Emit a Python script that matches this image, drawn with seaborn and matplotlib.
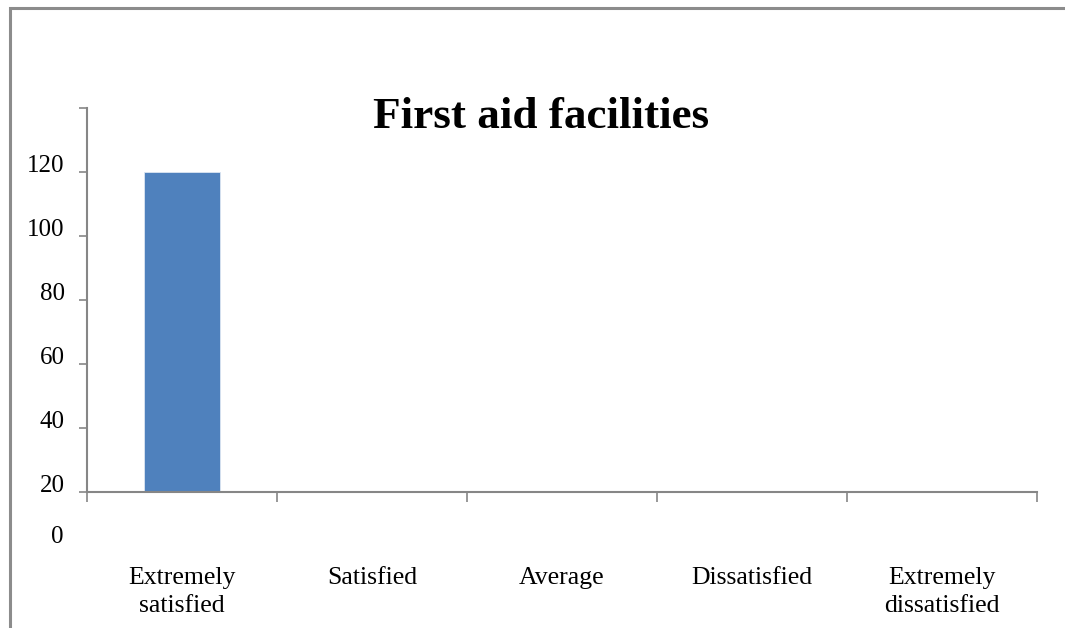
import matplotlib
matplotlib.use("Agg")
import matplotlib.pyplot as plt
from matplotlib.patches import Rectangle
from matplotlib.transforms import ScaledTranslation
import seaborn as sns

# Survey responses about first aid facilities
categories = ["Extremely\nsatisfied", "Satisfied", "Average", "Dissatisfied", "Extremely\ndissatisfied"]
responses = [120, 0, 0, 0, 0]
ytick_values = [20, 40, 60, 80, 100, 120, 140]
ytick_labels = ["20", "40", "60", "80", "100", "120", ""]

sns.set_style("white")
plt.rcParams["font.family"] = ["Liberation Serif", "DejaVu Serif"]
plt.rcParams["text.color"] = "black"
plt.rcParams["xtick.labelcolor"] = "black"
plt.rcParams["ytick.labelcolor"] = "black"

axis_gray = "#868686"
bar_blue = "#4F81BD"

fig = plt.figure(figsize=(10.65, 6.28), dpi=100)
ax = fig.add_axes([87 / 1065, 1 - 492 / 628, (1037 - 87) / 1065, (492 - 108) / 628])

sns.barplot(x=list(range(len(categories))), y=responses, color=bar_blue,
            width=0.4, saturation=1, edgecolor="#DCE6F2", linewidth=0.6,
            ax=ax, native_scale=True)

ax.set_xlim(-0.5, len(categories) - 0.5)
ax.set_ylim(20, 140)

# y axis: ticks with labels sitting slightly above each tick
ax.set_yticks(ytick_values)
ax.set_yticklabels(ytick_labels, fontsize=18)
ax.tick_params(axis="y", direction="out", length=6, width=1.2, color=axis_gray, pad=10, left=True)
up_shift = ScaledTranslation(0, 9 / 100, fig.dpi_scale_trans)
for lab in ax.get_yticklabels():
    lab.set_transform(lab.get_transform() + up_shift)

# x axis: tick marks on category boundaries, labels centred on categories
ax.set_xticks([i - 0.5 for i in range(len(categories) + 1)])
ax.set_xticklabels([])
ax.set_xticks(list(range(len(categories))), minor=True)
ax.set_xticklabels(categories, minor=True, fontsize=18.5, linespacing=1.33)
ax.tick_params(axis="x", which="major", direction="out", length=7, width=1.2, color=axis_gray, bottom=True)
ax.tick_params(axis="x", which="minor", length=0, pad=54)

for side in ["top", "right"]:
    ax.spines[side].set_visible(False)
for side in ["left", "bottom"]:
    ax.spines[side].set_color(axis_gray)
    ax.spines[side].set_linewidth(1.5)

ax.set_xlabel("")
ax.set_ylabel("")

# Extra "0" label below the axis
fig.text(63 / 1065, 1 - 537 / 628, "0", ha="right", va="center", fontsize=18)

# Chart title
fig.text(541 / 1065, 1 - 128 / 628, "First aid facilities", ha="center", va="baseline",
         fontsize=32.5, fontweight="bold")

# Chart area frame
fig.patches.append(Rectangle((10 / 1065, -0.1), 1.2, 1 - 8 / 628 + 0.1,
                             transform=fig.transFigure, fill=False,
                             edgecolor="#8C8C8C", linewidth=2.2))

fig.savefig("out.png", dpi=100, facecolor="white")
